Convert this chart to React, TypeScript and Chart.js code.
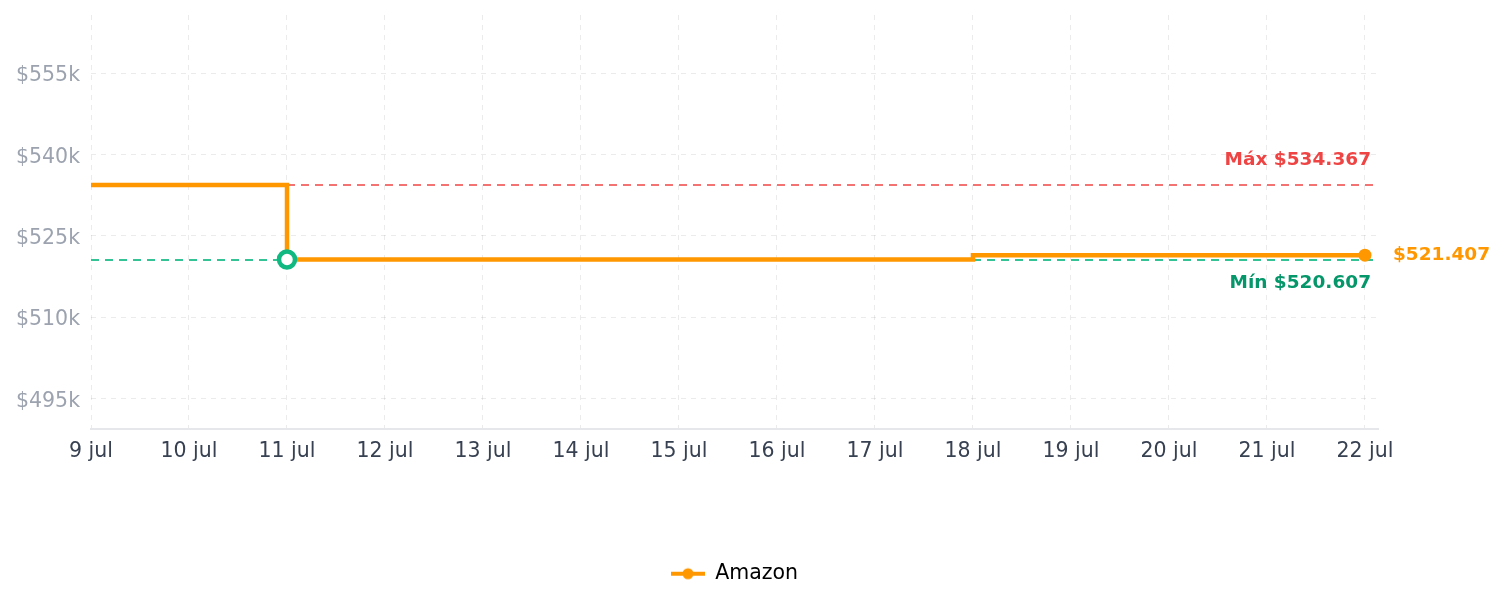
import React, { useEffect, useRef } from "react";
import { Chart, registerables } from "chart.js";

Chart.register(...registerables);

const dayLabels = ["9 jul", "10 jul", "11 jul", "12 jul", "13 jul", "14 jul", "15 jul", "16 jul", "17 jul", "18 jul", "19 jul", "20 jul", "21 jul", "22 jul"];
const amazonPrices = [534367, 534367, 520607, 520607, 520607, 520607, 520607, 520607, 520607, 521407, 521407, 521407, 521407, 521407];
const yTickValues = [495000, 510000, 525000, 540000, 555000];
const seriesName = "Amazon";
const yMin = 489450;
const yMax = 565700;
const xMax = 13.133;

const ORANGE = "#ff9800";
const FONT = "'DejaVu Sans', sans-serif";

const fmt = (n: number) => "$" + String(Math.round(n)).replace(/\B(?=(\d{3})+(?!\d))/g, ".");

export default function App() {
  const ref = useRef<HTMLCanvasElement | null>(null);

  useEffect(() => {
    if (!ref.current) return;
    const maxPrice = Math.max(...amazonPrices);
    const minPrice = Math.min(...amazonPrices);
    const minIdx = amazonPrices.indexOf(minPrice);
    const lastIdx = amazonPrices.length - 1;
    const lastPrice = amazonPrices[lastIdx];

    const icon = document.createElement("canvas");
    icon.width = 34;
    icon.height = 14;
    const ic = icon.getContext("2d")!;
    ic.strokeStyle = ORANGE;
    ic.lineWidth = 4;
    ic.beginPath();
    ic.moveTo(0, 7);
    ic.lineTo(34, 7);
    ic.stroke();
    ic.fillStyle = ORANGE;
    ic.beginPath();
    ic.arc(17, 7, 5.5, 0, Math.PI * 2);
    ic.fill();

    const refLines = {
      id: "refLines",
      beforeDatasetsDraw(chart: any) {
        const { ctx, chartArea, scales } = chart;
        const y = scales.y;
        ctx.save();
        ctx.lineWidth = 2;
        ctx.setLineDash([8, 6]);
        const ym = Math.round(y.getPixelForValue(maxPrice));
        ctx.strokeStyle = "rgba(239,68,68,0.75)";
        ctx.beginPath();
        ctx.moveTo(chartArea.left, ym);
        ctx.lineTo(chartArea.right, ym);
        ctx.stroke();
        const yn = Math.round(y.getPixelForValue(minPrice));
        ctx.strokeStyle = "rgba(16,185,129,0.85)";
        ctx.beginPath();
        ctx.moveTo(chartArea.left, yn);
        ctx.lineTo(chartArea.right, yn);
        ctx.stroke();
        ctx.restore();
      },
      afterDatasetsDraw(chart: any) {
        const { ctx, chartArea, scales } = chart;
        const x = scales.x;
        const y = scales.y;
        ctx.save();
        ctx.font = `bold 18.5px ${FONT}`;
        ctx.textBaseline = "middle";
        ctx.textAlign = "right";
        ctx.fillStyle = "#ef4444";
        ctx.fillText("Máx " + fmt(maxPrice), chartArea.right - 7, y.getPixelForValue(maxPrice) - 25);
        ctx.fillStyle = "#059669";
        ctx.fillText("Mín " + fmt(minPrice), chartArea.right - 7, y.getPixelForValue(minPrice) + 24);
        ctx.textAlign = "left";
        ctx.fillStyle = ORANGE;
        ctx.fillText(fmt(lastPrice), x.getPixelForValue(lastIdx) + 28, y.getPixelForValue(lastPrice));
        ctx.restore();
      },
    };

    const chart = new Chart(ref.current, {
      type: "line",
      data: {
        datasets: [
          {
            label: seriesName,
            data: amazonPrices.map((v, i) => ({ x: i, y: v })),
            borderColor: ORANGE,
            backgroundColor: ORANGE,
            borderWidth: 4.5,
            stepped: true,
            tension: 0,
            fill: false,
            borderJoinStyle: "miter",
            pointRadius: amazonPrices.map((_, i) => (i === minIdx ? 8 : i === lastIdx ? 6.5 : 0)),
            pointBorderWidth: amazonPrices.map((_, i) => (i === minIdx ? 4.5 : 0)),
            pointBackgroundColor: amazonPrices.map((_, i) => (i === minIdx ? "#ffffff" : ORANGE)),
            pointBorderColor: amazonPrices.map((_, i) => (i === minIdx ? "#10b981" : ORANGE)),
          } as any,
        ],
      },
      options: {
        animation: false,
        responsive: true,
        maintainAspectRatio: false,
        layout: { padding: { top: 7, right: 119, left: 0, bottom: 0 } },
        plugins: {
          tooltip: { enabled: false },
          legend: {
            position: "bottom",
            fullSize: false,
            labels: {
              usePointStyle: true,
              pointStyleWidth: 34,
              padding: 10,
              color: "#1a1a1a",
              font: { family: FONT, size: 20.5 },
              generateLabels: () => [
                {
                  text: seriesName,
                  pointStyle: icon as any,
                  fillStyle: ORANGE,
                  strokeStyle: ORANGE,
                  lineWidth: 0,
                  hidden: false,
                  datasetIndex: 0,
                } as any,
              ],
            },
          },
        },
        scales: {
          x: {
            type: "linear",
            min: 0,
            max: xMax,
            afterBuildTicks: (axis: any) => {
              axis.ticks = dayLabels.map((_, i) => ({ value: i }));
            },
            afterFit: (axis: any) => {
              axis.height = 125;
            },
            ticks: {
              color: "#374151",
              padding: 11,
              maxRotation: 0,
              autoSkip: false,
              font: { family: FONT, size: 20.5 },
              callback: (v: any) => dayLabels[Math.round(Number(v))] ?? "",
            },
            grid: { color: "rgba(0,0,0,0.08)", lineWidth: 1, drawTicks: false },
            border: { display: true, color: "#e5e7eb", width: 2, dash: [5, 5] },
          },
          y: {
            type: "linear",
            min: yMin,
            max: yMax,
            afterBuildTicks: (axis: any) => {
              axis.ticks = yTickValues.map((v) => ({ value: v }));
            },
            afterFit: (axis: any) => {
              axis.width = 83;
              axis.paddingTop = 0;
              axis.paddingBottom = 0;
            },
            ticks: {
              color: "#9ca3af",
              padding: 11,
              labelOffset: 3,
              font: { family: FONT, size: 20.5 },
              callback: (v: any) => "$" + Math.round(Number(v) / 1000) + "k",
            },
            grid: { color: "rgba(0,0,0,0.08)", lineWidth: 1, drawTicks: false },
            border: { display: false, dash: [5, 5] },
          },
        },
      },
      plugins: [refLines],
    } as any);

    return () => chart.destroy();
  }, []);

  return (
    <div style={{ position: "relative", width: "100%", height: 586 }}>
      <canvas ref={ref} />
    </div>
  );
}
